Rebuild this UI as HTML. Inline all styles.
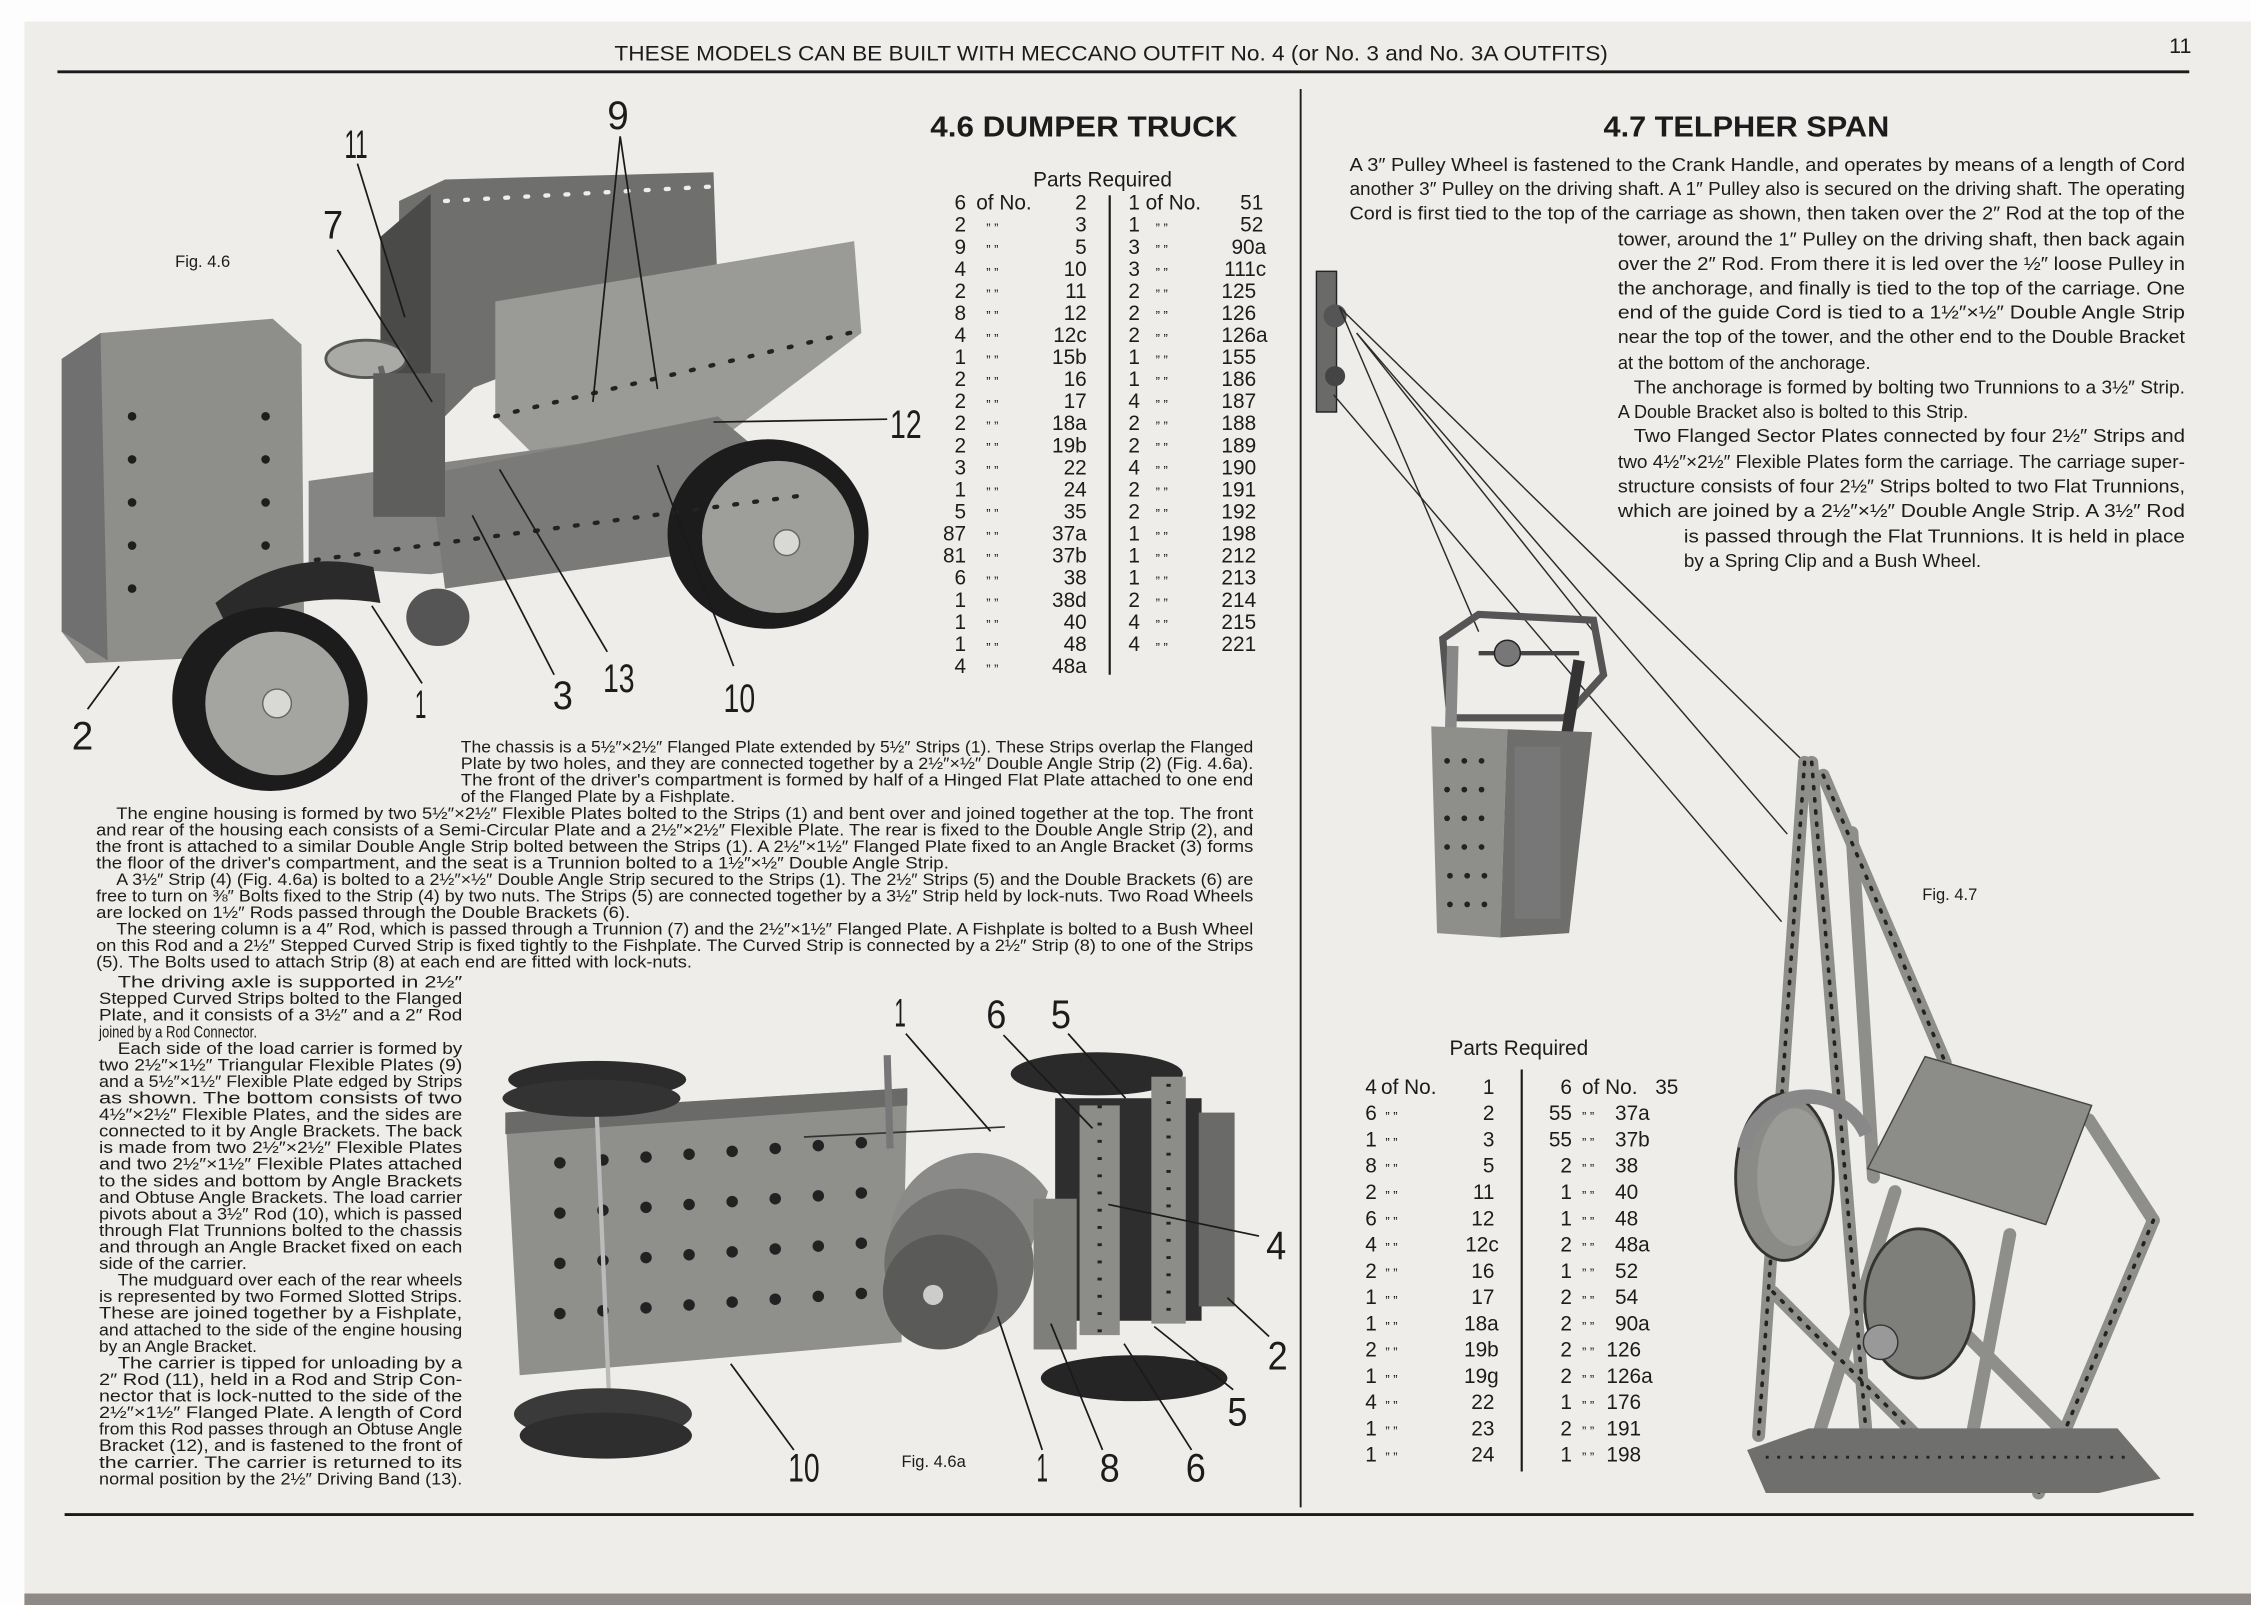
<!DOCTYPE html>
<html><head><meta charset="utf-8"><style>
html,body{margin:0;padding:0;background:#fff;}
svg{display:block;}
text{font-family:"Liberation Sans",sans-serif;fill:#1c1c1c;}
.p{font-size:11.6px;}
.r{font-size:12.6px;}
.t{font-size:14.5px;}
.n{font-size:28px;}
</style></head><body>
<svg width="2251" height="1605" viewBox="0 0 1568 1118" preserveAspectRatio="none" xmlns="http://www.w3.org/2000/svg">
<rect x="0" y="0" width="1568" height="1118" fill="#fdfdfd"/>
<rect x="17" y="15" width="1551" height="1095" fill="#efedea"/>
<rect x="17" y="1110" width="1551" height="8" fill="#8f8a85"/>

<text x="428" y="42" font-size="15" textLength="692" lengthAdjust="spacingAndGlyphs">THESE MODELS CAN BE BUILT WITH MECCANO OUTFIT No. 4 (or No. 3 and No. 3A OUTFITS)</text>
<text x="1511" y="37" font-size="15">11</text>
<line x1="40" y1="50" x2="1525" y2="50" stroke="#1a1a1a" stroke-width="2"/>
<line x1="906" y1="62" x2="906" y2="1050" stroke="#1a1a1a" stroke-width="1.3"/>
<line x1="45" y1="1055" x2="1528" y2="1055" stroke="#1a1a1a" stroke-width="2"/>

<text x="648" y="95" font-size="20" font-weight="bold" textLength="214" lengthAdjust="spacingAndGlyphs">4.6  DUMPER TRUCK</text>
<text x="1117" y="95" font-size="20" font-weight="bold" textLength="199" lengthAdjust="spacingAndGlyphs">4.7  TELPHER SPAN</text>

<!-- ===== FIG 4.6 truck ===== -->
<g>
<polygon points="278,140 310,125 497,120 500,205 330,270 300,300 278,300" fill="#6f6f6d"/>
<polygon points="265,165 300,135 300,330 265,345" fill="#4a4a48"/>
<polygon points="345,210 595,168 600,232 470,330 400,345 345,290" fill="#9a9a97"/>
<polygon points="215,335 470,300 570,320 560,365 300,400 215,395" fill="#858583"/>
<polygon points="300,330 500,290 560,340 520,380 310,410" fill="#7a7a78"/>
<polygon points="43,250 70,232 190,222 210,240 212,455 60,462 43,440" fill="#8e8e8b"/>
<polygon points="43,250 70,232 75,460 43,440" fill="#707070"/>
<g fill="#1e1e1e">
<circle cx="92" cy="290" r="3"/><circle cx="92" cy="320" r="3"/><circle cx="92" cy="350" r="3"/><circle cx="92" cy="380" r="3"/><circle cx="92" cy="410" r="3"/>
<circle cx="185" cy="290" r="3"/><circle cx="185" cy="320" r="3"/><circle cx="185" cy="350" r="3"/><circle cx="185" cy="380" r="3"/>
</g>
<ellipse cx="255" cy="250" rx="28" ry="13" fill="#a9a9a6" stroke="#555" stroke-width="2"/>
<line x1="265" y1="255" x2="290" y2="350" stroke="#666" stroke-width="4"/>
<rect x="260" y="260" width="50" height="100" fill="#5e5e5c"/>
<path d="M150,420 Q200,380 260,395 L265,420 Q200,410 160,440 Z" fill="#2a2a2a"/>
<ellipse cx="188" cy="487" rx="68" ry="64" fill="#1c1c1c"/>
<ellipse cx="193" cy="490" rx="50" ry="50" fill="#a4a4a1"/>
<circle cx="193" cy="490" r="10" fill="#d8d8d5" stroke="#666"/>
<ellipse cx="305" cy="430" rx="22" ry="20" fill="#555"/>
<ellipse cx="535" cy="372" rx="70" ry="66" fill="#1c1c1c"/>
<ellipse cx="542" cy="374" rx="53" ry="53" fill="#9e9e9b"/>
<circle cx="548" cy="378" r="9" fill="#d8d8d5" stroke="#666"/>
<line x1="345" y1="290" x2="600" y2="230" stroke="#222" stroke-width="3" stroke-dasharray="2 12" stroke-linecap="round"/>
<line x1="310" y1="140" x2="495" y2="130" stroke="#eee" stroke-width="3" stroke-dasharray="2 12" stroke-linecap="round"/>
<line x1="220" y1="390" x2="560" y2="345" stroke="#222" stroke-width="3" stroke-dasharray="2 12" stroke-linecap="round"/>
</g>
<g stroke="#1a1a1a" stroke-width="1.2" fill="none">
<line x1="249" y1="114" x2="282" y2="221"/>
<line x1="432" y1="95" x2="413" y2="280"/><line x1="432" y1="95" x2="458" y2="271"/>
<line x1="235" y1="174" x2="301" y2="280"/>
<line x1="618" y1="292" x2="497" y2="294"/>
<line x1="61" y1="494" x2="83" y2="464"/>
<line x1="294" y1="476" x2="259" y2="422"/>
<line x1="386" y1="470" x2="329" y2="359"/>
<line x1="423" y1="454" x2="348" y2="327"/>
<line x1="511" y1="464" x2="458" y2="324"/>
</g>
<g class="n">
<text x="240" y="110" textLength="16" lengthAdjust="spacingAndGlyphs">11</text>
<text x="423" y="90" textLength="15" lengthAdjust="spacingAndGlyphs">9</text>
<text x="225" y="166" textLength="14" lengthAdjust="spacingAndGlyphs">7</text>
<text x="620" y="305" textLength="22" lengthAdjust="spacingAndGlyphs">12</text>
<text x="50" y="522" textLength="15" lengthAdjust="spacingAndGlyphs">2</text>
<text x="289" y="500" textLength="8" lengthAdjust="spacingAndGlyphs">1</text>
<text x="385" y="494" textLength="14" lengthAdjust="spacingAndGlyphs">3</text>
<text x="420" y="482" textLength="22" lengthAdjust="spacingAndGlyphs">13</text>
<text x="504" y="496" textLength="22" lengthAdjust="spacingAndGlyphs">10</text>
</g>
<text x="122" y="186" font-size="11.5">Fig. 4.6</text>

<!-- parts table 4.6 -->
<text x="768" y="130" font-size="14.5" text-anchor="middle">Parts Required</text>
<line x1="773" y1="136" x2="773" y2="470" stroke="#1a1a1a" stroke-width="1.5"/>
<g class="t">
<g text-anchor="end">
<text x="673" y="146">6</text><text x="673" y="161.4">2</text><text x="673" y="176.8">9</text><text x="673" y="192.1">4</text><text x="673" y="207.5">2</text><text x="673" y="222.9">8</text><text x="673" y="238.2">4</text><text x="673" y="253.6">1</text><text x="673" y="269">2</text><text x="673" y="284.3">2</text><text x="673" y="299.7">2</text><text x="673" y="315.1">2</text><text x="673" y="330.4">3</text><text x="673" y="345.8">1</text><text x="673" y="361.2">5</text><text x="673" y="376.6">87</text><text x="673" y="391.9">81</text><text x="673" y="407.3">6</text><text x="673" y="422.7">1</text><text x="673" y="438">1</text><text x="673" y="453.4">1</text><text x="673" y="468.8">4</text>
<text x="757" y="146">2</text><text x="757" y="161.4">3</text><text x="757" y="176.8">5</text><text x="757" y="192.1">10</text><text x="757" y="207.5">11</text><text x="757" y="222.9">12</text><text x="757" y="238.2">12c</text><text x="757" y="253.6">15b</text><text x="757" y="269">16</text><text x="757" y="284.3">17</text><text x="757" y="299.7">18a</text><text x="757" y="315.1">19b</text><text x="757" y="330.4">22</text><text x="757" y="345.8">24</text><text x="757" y="361.2">35</text><text x="757" y="376.6">37a</text><text x="757" y="391.9">37b</text><text x="757" y="407.3">38</text><text x="757" y="422.7">38d</text><text x="757" y="438">40</text><text x="757" y="453.4">48</text><text x="757" y="468.8">48a</text>
<text x="880" y="146">51</text><text x="880" y="161.4">52</text><text x="882" y="176.8">90a</text><text x="882" y="192.1">111c</text><text x="875" y="207.5">125</text><text x="875" y="222.9">126</text><text x="883" y="238.2">126a</text><text x="875" y="253.6">155</text><text x="875" y="269">186</text><text x="875" y="284.3">187</text><text x="875" y="299.7">188</text><text x="875" y="315.1">189</text><text x="875" y="330.4">190</text><text x="875" y="345.8">191</text><text x="875" y="361.2">192</text><text x="875" y="376.6">198</text><text x="875" y="391.9">212</text><text x="875" y="407.3">213</text><text x="875" y="422.7">214</text><text x="875" y="438">215</text><text x="875" y="453.4">221</text>
</g>
<text x="680" y="146">of No.</text><text x="786" y="146">1</text><text x="798" y="146">of No.</text>
<text x="786" y="161.4">1</text><text x="786" y="176.8">3</text><text x="786" y="192.1">3</text><text x="786" y="207.5">2</text><text x="786" y="222.9">2</text><text x="786" y="238.2">2</text><text x="786" y="253.6">1</text><text x="786" y="269">1</text><text x="786" y="284.3">4</text><text x="786" y="299.7">2</text><text x="786" y="315.1">2</text><text x="786" y="330.4">4</text><text x="786" y="345.8">2</text><text x="786" y="361.2">2</text><text x="786" y="376.6">1</text><text x="786" y="391.9">1</text><text x="786" y="407.3">1</text><text x="786" y="422.7">2</text><text x="786" y="438">4</text><text x="786" y="453.4">4</text>
</g>
<g font-size="9">
<text x="687" y="162">”   ”</text><text x="687" y="177">”   ”</text><text x="687" y="193">”   ”</text><text x="687" y="208">”   ”</text><text x="687" y="223">”   ”</text><text x="687" y="239">”   ”</text><text x="687" y="254">”   ”</text><text x="687" y="269">”   ”</text><text x="687" y="285">”   ”</text><text x="687" y="300">”   ”</text><text x="687" y="315">”   ”</text><text x="687" y="331">”   ”</text><text x="687" y="346">”   ”</text><text x="687" y="361">”   ”</text><text x="687" y="377">”   ”</text><text x="687" y="392">”   ”</text><text x="687" y="408">”   ”</text><text x="687" y="423">”   ”</text><text x="687" y="438">”   ”</text><text x="687" y="454">”   ”</text><text x="687" y="469">”   ”</text>
<text x="805" y="162">”   ”</text><text x="805" y="177">”   ”</text><text x="805" y="193">”   ”</text><text x="805" y="208">”   ”</text><text x="805" y="223">”   ”</text><text x="805" y="239">”   ”</text><text x="805" y="254">”   ”</text><text x="805" y="269">”   ”</text><text x="805" y="285">”   ”</text><text x="805" y="300">”   ”</text><text x="805" y="315">”   ”</text><text x="805" y="331">”   ”</text><text x="805" y="346">”   ”</text><text x="805" y="361">”   ”</text><text x="805" y="377">”   ”</text><text x="805" y="392">”   ”</text><text x="805" y="408">”   ”</text><text x="805" y="423">”   ”</text><text x="805" y="438">”   ”</text><text x="805" y="454">”   ”</text>
</g>

<!-- dumper paragraphs -->
<g class="p">
<text x="321" y="524" textLength="552" lengthAdjust="spacingAndGlyphs">The chassis is a 5½″×2½″ Flanged Plate extended by 5½″ Strips (1). These Strips overlap the Flanged</text>
<text x="321" y="535.5" textLength="552" lengthAdjust="spacingAndGlyphs">Plate by two holes, and they are connected together by a 2½″×½″ Double Angle Strip (2) (Fig. 4.6a).</text>
<text x="321" y="547" textLength="552" lengthAdjust="spacingAndGlyphs">The front of the driver's compartment is formed by half of a Hinged Flat Plate attached to one end</text>
<text x="321" y="558.5" textLength="191" lengthAdjust="spacingAndGlyphs">of the Flanged Plate by a Fishplate.</text>
<text x="81" y="570.5" textLength="792" lengthAdjust="spacingAndGlyphs">The engine housing is formed by two 5½″×2½″ Flexible Plates bolted to the Strips (1) and bent over and joined together at the top. The front</text>
<text x="67" y="582" textLength="806" lengthAdjust="spacingAndGlyphs">and rear of the housing each consists of a Semi-Circular Plate and a 2½″×2½″ Flexible Plate. The rear is fixed to the Double Angle Strip (2), and</text>
<text x="67" y="593.5" textLength="806" lengthAdjust="spacingAndGlyphs">the front is attached to a similar Double Angle Strip bolted between the Strips (1). A 2½″×1½″ Flanged Plate fixed to an Angle Bracket (3) forms</text>
<text x="67" y="605" textLength="594" lengthAdjust="spacingAndGlyphs">the floor of the driver's compartment, and the seat is a Trunnion bolted to a 1½″×½″ Double Angle Strip.</text>
<text x="81" y="616.5" textLength="792" lengthAdjust="spacingAndGlyphs">A 3½″ Strip (4) (Fig. 4.6a) is bolted to a 2½″×½″ Double Angle Strip secured to the Strips (1). The 2½″ Strips (5) and the Double Brackets (6) are</text>
<text x="67" y="628" textLength="806" lengthAdjust="spacingAndGlyphs">free to turn on ⅜″ Bolts fixed to the Strip (4) by two nuts. The Strips (5) are connected together by a 3½″ Strip held by lock-nuts. Two Road Wheels</text>
<text x="67" y="639.5" textLength="372" lengthAdjust="spacingAndGlyphs">are locked on 1½″ Rods passed through the Double Brackets (6).</text>
<text x="81" y="651" textLength="792" lengthAdjust="spacingAndGlyphs">The steering column is a 4″ Rod, which is passed through a Trunnion (7) and the 2½″×1½″ Flanged Plate. A Fishplate is bolted to a Bush Wheel</text>
<text x="67" y="662.5" textLength="806" lengthAdjust="spacingAndGlyphs">on this Rod and a 2½″ Stepped Curved Strip is fixed tightly to the Fishplate. The Curved Strip is connected by a 2½″ Strip (8) to one of the Strips</text>
<text x="67" y="674" textLength="415" lengthAdjust="spacingAndGlyphs">(5). The Bolts used to attach Strip (8) at each end are fitted with lock-nuts.</text>
</g>
<g class="p">
<text x="82" y="688" textLength="240" lengthAdjust="spacingAndGlyphs">The driving axle is supported in 2½″</text>
<text x="69" y="699.5" textLength="253" lengthAdjust="spacingAndGlyphs">Stepped Curved Strips bolted to the Flanged</text>
<text x="69" y="711" textLength="253" lengthAdjust="spacingAndGlyphs">Plate, and it consists of a 3½″ and a 2″ Rod</text>
<text x="69" y="722.6" textLength="110" lengthAdjust="spacingAndGlyphs">joined by a Rod Connector.</text>
<text x="82" y="734.1" textLength="240" lengthAdjust="spacingAndGlyphs">Each side of the load carrier is formed by</text>
<text x="69" y="745.6" textLength="253" lengthAdjust="spacingAndGlyphs">two 2½″×1½″ Triangular Flexible Plates (9)</text>
<text x="69" y="757.2" textLength="253" lengthAdjust="spacingAndGlyphs">and a 5½″×1½″ Flexible Plate edged by Strips</text>
<text x="69" y="768.7" textLength="253" lengthAdjust="spacingAndGlyphs">as shown. The bottom consists of two</text>
<text x="69" y="780.2" textLength="253" lengthAdjust="spacingAndGlyphs">4½″×2½″ Flexible Plates, and the sides are</text>
<text x="69" y="791.8" textLength="253" lengthAdjust="spacingAndGlyphs">connected to it by Angle Brackets. The back</text>
<text x="69" y="803.3" textLength="253" lengthAdjust="spacingAndGlyphs">is made from two 2½″×2½″ Flexible Plates</text>
<text x="69" y="814.8" textLength="253" lengthAdjust="spacingAndGlyphs">and two 2½″×1½″ Flexible Plates attached</text>
<text x="69" y="826.4" textLength="253" lengthAdjust="spacingAndGlyphs">to the sides and bottom by Angle Brackets</text>
<text x="69" y="837.9" textLength="253" lengthAdjust="spacingAndGlyphs">and Obtuse Angle Brackets. The load carrier</text>
<text x="69" y="849.4" textLength="253" lengthAdjust="spacingAndGlyphs">pivots about a 3½″ Rod (10), which is passed</text>
<text x="69" y="861" textLength="253" lengthAdjust="spacingAndGlyphs">through Flat Trunnions bolted to the chassis</text>
<text x="69" y="872.5" textLength="253" lengthAdjust="spacingAndGlyphs">and through an Angle Bracket fixed on each</text>
<text x="69" y="884" textLength="103" lengthAdjust="spacingAndGlyphs">side of the carrier.</text>
<text x="82" y="895.6" textLength="240" lengthAdjust="spacingAndGlyphs">The mudguard over each of the rear wheels</text>
<text x="69" y="907.1" textLength="253" lengthAdjust="spacingAndGlyphs">is represented by two Formed Slotted Strips.</text>
<text x="69" y="918.6" textLength="253" lengthAdjust="spacingAndGlyphs">These are joined together by a Fishplate,</text>
<text x="69" y="930.2" textLength="253" lengthAdjust="spacingAndGlyphs">and attached to the side of the engine housing</text>
<text x="69" y="941.7" textLength="110" lengthAdjust="spacingAndGlyphs">by an Angle Bracket.</text>
<text x="82" y="953.2" textLength="240" lengthAdjust="spacingAndGlyphs">The carrier is tipped for unloading by a</text>
<text x="69" y="964.8" textLength="253" lengthAdjust="spacingAndGlyphs">2″ Rod (11), held in a Rod and Strip Con-</text>
<text x="69" y="976.3" textLength="253" lengthAdjust="spacingAndGlyphs">nector that is lock-nutted to the side of the</text>
<text x="69" y="987.8" textLength="253" lengthAdjust="spacingAndGlyphs">2½″×1½″ Flanged Plate. A length of Cord</text>
<text x="69" y="999.4" textLength="253" lengthAdjust="spacingAndGlyphs">from this Rod passes through an Obtuse Angle</text>
<text x="69" y="1010.9" textLength="253" lengthAdjust="spacingAndGlyphs">Bracket (12), and is fastened to the front of</text>
<text x="69" y="1022.4" textLength="253" lengthAdjust="spacingAndGlyphs">the carrier. The carrier is returned to its</text>
<text x="69" y="1034" textLength="253" lengthAdjust="spacingAndGlyphs">normal position by the 2½″ Driving Band (13).</text>
</g>

<!-- ===== FIG 4.6a ===== -->
<g>
<polygon points="352,775 632,758 628,935 362,958" fill="#8f8f8c"/>
<polygon points="352,775 632,758 632,770 352,790" fill="#6a6a68"/>
<g fill="#222">
<circle cx="390" cy="810" r="4"/><circle cx="420" cy="808" r="4"/><circle cx="450" cy="806" r="4"/><circle cx="480" cy="804" r="4"/><circle cx="510" cy="802" r="4"/><circle cx="540" cy="800" r="4"/><circle cx="570" cy="798" r="4"/><circle cx="600" cy="796" r="4"/>
<circle cx="390" cy="845" r="4"/><circle cx="420" cy="843" r="4"/><circle cx="450" cy="841" r="4"/><circle cx="480" cy="839" r="4"/><circle cx="510" cy="837" r="4"/><circle cx="540" cy="835" r="4"/><circle cx="570" cy="833" r="4"/><circle cx="600" cy="831" r="4"/>
<circle cx="390" cy="880" r="4"/><circle cx="420" cy="878" r="4"/><circle cx="450" cy="876" r="4"/><circle cx="480" cy="874" r="4"/><circle cx="510" cy="872" r="4"/><circle cx="540" cy="870" r="4"/><circle cx="570" cy="868" r="4"/><circle cx="600" cy="866" r="4"/>
<circle cx="390" cy="915" r="4"/><circle cx="420" cy="913" r="4"/><circle cx="450" cy="911" r="4"/><circle cx="480" cy="909" r="4"/><circle cx="510" cy="907" r="4"/><circle cx="540" cy="905" r="4"/><circle cx="570" cy="903" r="4"/><circle cx="600" cy="901" r="4"/>
</g>
<line x1="415" y1="760" x2="425" y2="990" stroke="#bbb" stroke-width="3"/>
<ellipse cx="416" cy="752" rx="62" ry="13" fill="#2c2c2c"/>
<ellipse cx="412" cy="765" rx="62" ry="13" fill="#333"/>
<ellipse cx="420" cy="985" rx="62" ry="18" fill="#3a3a3a"/>
<ellipse cx="422" cy="1000" rx="60" ry="16" fill="#2e2e2e"/>
<line x1="560" y1="792" x2="700" y2="785" stroke="#333" stroke-width="1.2"/>
<line x1="618" y1="735" x2="620" y2="800" stroke="#777" stroke-width="5"/>
<path d="M620,860 A60,60 0 0 1 730,830 L715,880 A25,25 0 0 0 665,880 Z" fill="#8a8a88"/>
<circle cx="668" cy="880" r="52" fill="#6e6e6c"/>
<circle cx="655" cy="900" r="40" fill="#5a5a58"/>
<circle cx="650" cy="902" r="7" fill="#ccc"/>
<ellipse cx="764" cy="748" rx="60" ry="15" fill="#2a2a2a"/>
<rect x="735" y="765" width="102" height="155" fill="#2e2e2e"/>
<rect x="752" y="770" width="28" height="160" fill="#8c8c89"/>
<rect x="802" y="750" width="24" height="172" fill="#8c8c89"/>
<rect x="720" y="835" width="30" height="105" fill="#7e7e7b"/>
<rect x="835" y="775" width="25" height="135" fill="#6a6a68"/>
<ellipse cx="790" cy="960" rx="65" ry="16" fill="#252525"/>
<line x1="766" y1="770" x2="766" y2="930" stroke="#222" stroke-width="3" stroke-dasharray="2 10"/>
<line x1="814" y1="755" x2="814" y2="920" stroke="#222" stroke-width="3" stroke-dasharray="2 10"/>
</g>
<g stroke="#1a1a1a" stroke-width="1.2">
<line x1="631" y1="720" x2="690" y2="788"/>
<line x1="699" y1="721" x2="761" y2="786"/>
<line x1="744" y1="720" x2="784" y2="765"/>
<line x1="877" y1="861" x2="772" y2="839"/>
<line x1="884" y1="931" x2="855" y2="904"/>
<line x1="859" y1="968" x2="804" y2="924"/>
<line x1="830" y1="1010" x2="783" y2="936"/>
<line x1="768" y1="1010" x2="732" y2="922"/>
<line x1="726" y1="1010" x2="695" y2="917"/>
<line x1="553" y1="1010" x2="509" y2="950"/>
</g>
<g class="n">
<text x="623" y="715" textLength="8" lengthAdjust="spacingAndGlyphs">1</text>
<text x="687" y="716" textLength="14" lengthAdjust="spacingAndGlyphs">6</text>
<text x="732" y="716" textLength="14" lengthAdjust="spacingAndGlyphs">5</text>
<text x="882" y="877" textLength="14" lengthAdjust="spacingAndGlyphs">4</text>
<text x="883" y="954" textLength="14" lengthAdjust="spacingAndGlyphs">2</text>
<text x="855" y="993" textLength="14" lengthAdjust="spacingAndGlyphs">5</text>
<text x="826" y="1032" textLength="14" lengthAdjust="spacingAndGlyphs">6</text>
<text x="766" y="1032" textLength="14" lengthAdjust="spacingAndGlyphs">8</text>
<text x="722" y="1032" textLength="8" lengthAdjust="spacingAndGlyphs">1</text>
<text x="549" y="1032" textLength="22" lengthAdjust="spacingAndGlyphs">10</text>
</g>
<text x="628" y="1022" font-size="11.5">Fig. 4.6a</text>

<!-- ===== 4.7 text ===== -->
<g class="r">
<text x="940" y="119" textLength="582" lengthAdjust="spacingAndGlyphs">A 3″ Pulley Wheel is fastened to the Crank Handle, and operates by means of a length of Cord</text>
<text x="940" y="136" textLength="582" lengthAdjust="spacingAndGlyphs">another 3″ Pulley on the driving shaft. A 1″ Pulley also is secured on the driving shaft. The operating</text>
<text x="940" y="153" textLength="582" lengthAdjust="spacingAndGlyphs">Cord is first tied to the top of the carriage as shown, then taken over the 2″ Rod at the top of the</text>
<text x="1127" y="171" textLength="395" lengthAdjust="spacingAndGlyphs">tower, around the 1″ Pulley on the driving shaft, then back again</text>
<text x="1127" y="188" textLength="395" lengthAdjust="spacingAndGlyphs">over the 2″ Rod. From there it is led over the ½″ loose Pulley in</text>
<text x="1127" y="205" textLength="395" lengthAdjust="spacingAndGlyphs">the anchorage, and finally is tied to the top of the carriage. One</text>
<text x="1127" y="222" textLength="395" lengthAdjust="spacingAndGlyphs">end of the guide Cord is tied to a 1½″×½″ Double Angle Strip</text>
<text x="1127" y="239" textLength="395" lengthAdjust="spacingAndGlyphs">near the top of the tower, and the other end to the Double Bracket</text>
<text x="1127" y="257" textLength="176" lengthAdjust="spacingAndGlyphs">at the bottom of the anchorage.</text>
<text x="1138" y="274" textLength="384" lengthAdjust="spacingAndGlyphs">The anchorage is formed by bolting two Trunnions to a 3½″ Strip.</text>
<text x="1127" y="291" textLength="244" lengthAdjust="spacingAndGlyphs">A Double Bracket also is bolted to this Strip.</text>
<text x="1138" y="308" textLength="384" lengthAdjust="spacingAndGlyphs">Two Flanged Sector Plates connected by four 2½″ Strips and</text>
<text x="1127" y="326" textLength="395" lengthAdjust="spacingAndGlyphs">two 4½″×2½″ Flexible Plates form the carriage. The carriage super-</text>
<text x="1127" y="343" textLength="395" lengthAdjust="spacingAndGlyphs">structure consists of four 2½″ Strips bolted to two Flat Trunnions,</text>
<text x="1127" y="360" textLength="395" lengthAdjust="spacingAndGlyphs">which are joined by a 2½″×½″ Double Angle Strip. A 3½″ Rod</text>
<text x="1173" y="378" textLength="349" lengthAdjust="spacingAndGlyphs">is passed through the Flat Trunnions. It is held in place</text>
<text x="1173" y="395" textLength="207" lengthAdjust="spacingAndGlyphs">by a Spring Clip and a Bush Wheel.</text>
</g>

<!-- ===== FIG 4.7 ===== -->
<g>
<rect x="917" y="189" width="14" height="98" fill="#6a6a68" stroke="#222"/>
<circle cx="930" cy="220" r="8" fill="#555"/><circle cx="930" cy="262" r="7" fill="#444"/>
<g stroke="#2a2a2a" stroke-width="1">
<line x1="933" y1="214" x2="1257" y2="531"/>
<line x1="945" y1="232" x2="1245" y2="581"/>
<line x1="929" y1="275" x2="1241" y2="642"/>
<line x1="933" y1="214" x2="1030" y2="440"/>
<line x1="945" y1="232" x2="1110" y2="440"/>
</g>
<polygon points="1005,445 1030,428 1110,432 1117,470 1090,500 1010,500" fill="none" stroke="#555" stroke-width="5"/>
<line x1="1030" y1="455" x2="1100" y2="455" stroke="#444" stroke-width="3"/>
<circle cx="1050" cy="455" r="9" fill="#777" stroke="#222"/>
<line x1="1012" y1="450" x2="1010" y2="530" stroke="#888" stroke-width="8"/>
<line x1="1100" y1="460" x2="1090" y2="520" stroke="#333" stroke-width="8"/>
<polygon points="997,506 1050,508 1045,653 1001,650" fill="#8e8e8b"/>
<polygon points="1050,508 1109,510 1093,650 1045,653" fill="#6e6e6c"/>
<rect x="1055" y="520" width="32" height="120" fill="#777"/>
<g fill="#222"><circle cx="1008" cy="530" r="2"/><circle cx="1020" cy="530" r="2"/><circle cx="1032" cy="530" r="2"/><circle cx="1008" cy="550" r="2"/><circle cx="1020" cy="550" r="2"/><circle cx="1032" cy="550" r="2"/><circle cx="1008" cy="570" r="2"/><circle cx="1020" cy="570" r="2"/><circle cx="1032" cy="570" r="2"/><circle cx="1008" cy="590" r="2"/><circle cx="1020" cy="590" r="2"/><circle cx="1032" cy="590" r="2"/><circle cx="1010" cy="610" r="2"/><circle cx="1022" cy="610" r="2"/><circle cx="1034" cy="610" r="2"/><circle cx="1010" cy="630" r="2"/><circle cx="1022" cy="630" r="2"/><circle cx="1034" cy="630" r="2"/></g>
<g stroke-linecap="round">
<g stroke="#8e8e8b" stroke-width="9">
<line x1="1257" y1="531" x2="1225" y2="1000"/>
<line x1="1262" y1="531" x2="1300" y2="1000"/>
<line x1="1270" y1="540" x2="1355" y2="740"/>
<line x1="1290" y1="580" x2="1305" y2="820"/>
<line x1="1235" y1="900" x2="1345" y2="1010"/>
<line x1="1320" y1="830" x2="1265" y2="1005"/>
<line x1="1455" y1="780" x2="1500" y2="850"/>
<line x1="1500" y1="850" x2="1420" y2="1040"/>
<line x1="1400" y1="860" x2="1370" y2="1020"/>
<line x1="1340" y1="900" x2="1440" y2="1000"/>
</g>
<g stroke="#222" stroke-width="2.5" stroke-dasharray="1.5 7">
<line x1="1257" y1="531" x2="1225" y2="1000"/>
<line x1="1262" y1="531" x2="1300" y2="1000"/>
<line x1="1270" y1="540" x2="1355" y2="740"/>
<line x1="1500" y1="850" x2="1420" y2="1040"/>
<line x1="1235" y1="900" x2="1345" y2="1010"/>
</g>
</g>
<polygon points="1341,736 1457,770 1425,853 1301,814" fill="#8c8c89" stroke="#444"/>
<ellipse cx="1243" cy="820" rx="34" ry="58" fill="#8a8a87" stroke="#333" stroke-width="2"/>
<ellipse cx="1250" cy="820" rx="26" ry="48" fill="#9a9a97"/>
<path d="M1215,800 A45,45 0 0 1 1300,790" fill="none" stroke="#888" stroke-width="10"/>
<ellipse cx="1337" cy="908" rx="38" ry="52" fill="#7e7e7b" stroke="#333" stroke-width="2"/>
<circle cx="1310" cy="935" r="12" fill="#999" stroke="#333"/>
<polygon points="1217,1010 1260,995 1475,995 1505,1030 1462,1040 1230,1040" fill="#6f6f6d"/>
<line x1="1230" y1="1015" x2="1480" y2="1015" stroke="#222" stroke-width="2" stroke-dasharray="2 6"/>
</g>
<text x="1339" y="627" font-size="11.5">Fig. 4.7</text>

<!-- parts table 4.7 -->
<text x="1058" y="735" font-size="14.5" text-anchor="middle">Parts Required</text>
<line x1="1060" y1="745" x2="1060" y2="1025" stroke="#1a1a1a" stroke-width="1.5"/>
<g class="t">
<text x="951" y="762">4</text><text x="962" y="762">of No.</text>
<text x="951" y="780.3">6</text><text x="951" y="798.6">1</text><text x="951" y="816.9">8</text><text x="951" y="835.2">2</text><text x="951" y="853.5">6</text><text x="951" y="871.8">4</text><text x="951" y="890.1">2</text><text x="951" y="908.4">1</text><text x="951" y="926.7">1</text><text x="951" y="945">2</text><text x="951" y="963.3">1</text><text x="951" y="981.6">4</text><text x="951" y="999.9">1</text><text x="951" y="1018.2">1</text>
<g text-anchor="end">
<text x="1041" y="762">1</text><text x="1041" y="780.3">2</text><text x="1041" y="798.6">3</text><text x="1041" y="816.9">5</text><text x="1041" y="835.2">11</text><text x="1041" y="853.5">12</text><text x="1044" y="871.8">12c</text><text x="1041" y="890.1">16</text><text x="1041" y="908.4">17</text><text x="1044" y="926.7">18a</text><text x="1044" y="945">19b</text><text x="1044" y="963.3">19g</text><text x="1041" y="981.6">22</text><text x="1041" y="999.9">23</text><text x="1041" y="1018.2">24</text>
<text x="1095" y="762">6</text><text x="1095" y="780.3">55</text><text x="1095" y="798.6">55</text><text x="1095" y="816.9">2</text><text x="1095" y="835.2">1</text><text x="1095" y="853.5">1</text><text x="1095" y="871.8">2</text><text x="1095" y="890.1">1</text><text x="1095" y="908.4">2</text><text x="1095" y="926.7">2</text><text x="1095" y="945">2</text><text x="1095" y="963.3">2</text><text x="1095" y="981.6">1</text><text x="1095" y="999.9">2</text><text x="1095" y="1018.2">1</text>
</g>
<text x="1102" y="762">of No.</text>
<text x="1153" y="762">35</text>
<text x="1125" y="780.3">37a</text><text x="1125" y="798.6">37b</text><text x="1125" y="816.9">38</text><text x="1125" y="835.2">40</text><text x="1125" y="853.5">48</text><text x="1125" y="871.8">48a</text><text x="1125" y="890.1">52</text><text x="1125" y="908.4">54</text><text x="1125" y="926.7">90a</text><text x="1119" y="945">126</text><text x="1119" y="963.3">126a</text><text x="1119" y="981.6">176</text><text x="1119" y="999.9">191</text><text x="1119" y="1018.2">198</text>
</g>
<g font-size="9">
<text x="965" y="781">”    ”</text><text x="965" y="799">”    ”</text><text x="965" y="817">”    ”</text><text x="965" y="836">”    ”</text><text x="965" y="854">”    ”</text><text x="965" y="872">”    ”</text><text x="965" y="890">”    ”</text><text x="965" y="909">”    ”</text><text x="965" y="927">”    ”</text><text x="965" y="945">”    ”</text><text x="965" y="964">”    ”</text><text x="965" y="982">”    ”</text><text x="965" y="1000">”    ”</text><text x="965" y="1018">”    ”</text>
<text x="1102" y="781">”    ”</text><text x="1102" y="799">”    ”</text><text x="1102" y="817">”    ”</text><text x="1102" y="836">”    ”</text><text x="1102" y="854">”    ”</text><text x="1102" y="872">”    ”</text><text x="1102" y="890">”    ”</text><text x="1102" y="909">”    ”</text><text x="1102" y="927">”    ”</text><text x="1102" y="945">”    ”</text><text x="1102" y="964">”    ”</text><text x="1102" y="982">”    ”</text><text x="1102" y="1000">”    ”</text><text x="1102" y="1018">”    ”</text>
</g>
</svg>
</body></html>
